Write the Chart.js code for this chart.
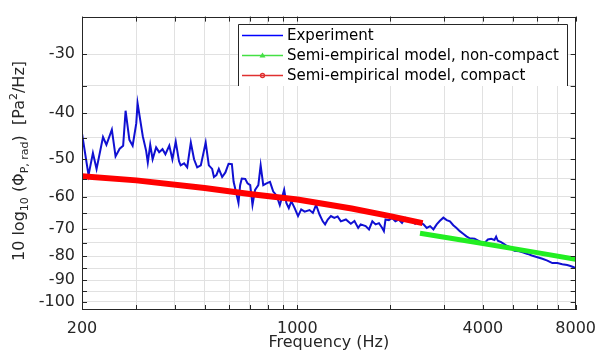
<!DOCTYPE html>
<html>
<head>
<meta charset="utf-8">
<script src="https://cdn.jsdelivr.net/npm/chart.js@4.4.0/dist/chart.umd.min.js"></script>
<style>
  html, body { margin: 0; padding: 0; background: #fff; }
  #wrap { width: 605px; height: 356px; }
</style>
</head>
<body>
<div id="wrap"><canvas id="psdChart" width="605" height="356"></canvas></div>
<script>
// 實驗量測：頻率 (Hz) 與 10 log10(Phi) (dB)
const expFreq = [200, 210, 217, 223, 234, 240, 250, 257, 265, 272, 277, 285, 292, 300, 303, 315, 323, 327, 333, 339,
    348, 356, 365, 373, 384, 393, 403, 413, 418, 429, 439, 451, 462, 473, 486, 504, 516, 529, 536, 546,
    556, 570, 584, 598, 613, 621, 636, 644, 652, 660, 677, 689, 703, 715, 729, 747, 760, 775, 794, 815,
    835, 856, 877, 906, 921, 938, 956, 980, 1005, 1029, 1056, 1095, 1123, 1150, 1180, 1209, 1230, 1255, 1285, 1318,
    1351, 1384, 1437, 1491, 1532, 1575, 1605, 1666, 1708, 1751, 1794, 1840, 1885, 1909, 1932, 1981, 2030, 2080, 2132, 2186,
    2240, 2296, 2354, 2412, 2474, 2566, 2630, 2696, 2764, 2832, 2902, 2977, 3052, 3127, 3206, 3285, 3366, 3452, 3537, 3624,
    3761, 3902, 4050, 4154, 4257, 4362, 4416, 4472, 4583, 4757, 4937, 5060, 5248, 5382, 5585, 5796, 6014, 6241, 6476, 6720,
    6974, 7238, 7510, 7697, 7887, 8000];
const expLevel = [-44.1, -54.0, -48.5, -52.4, -44.9, -46.6, -43.3, -49.3, -47.5, -46.8, -39.5, -45.5, -46.8, -42.0, -38.1, -44.7, -48.0, -50.8, -46.6, -50.0,
    -47.2, -48.3, -47.6, -48.8, -46.8, -50.0, -45.9, -50.5, -51.5, -51.0, -52.0, -46.1, -50.0, -52.0, -51.5, -46.1, -51.5, -52.4, -54.5, -54.0,
    -52.4, -54.5, -53.3, -51.1, -51.2, -55.8, -59.6, -61.8, -56.7, -54.9, -55.0, -56.2, -56.7, -62.4, -58.0, -56.7, -51.5, -56.7, -56.2, -55.8,
    -58.5, -59.6, -62.5, -58.0, -61.8, -63.4, -61.3, -63.4, -65.9, -63.8, -64.5, -64.0, -64.9, -62.4, -65.4, -67.6, -68.6, -67.0, -65.9, -66.5,
    -66.0, -67.6, -67.0, -68.4, -67.5, -69.8, -68.6, -69.2, -70.3, -67.6, -68.6, -68.2, -69.8, -70.9, -67.0, -67.2, -66.5, -67.6, -67.0, -68.1,
    -66.5, -67.5, -67.6, -68.4, -67.8, -68.6, -69.8, -69.2, -70.3, -68.6, -67.4, -66.4, -67.2, -67.6, -68.9, -69.8, -70.9, -71.8, -72.7, -73.4,
    -73.6, -74.5, -75.1, -73.8, -73.6, -74.0, -72.8, -74.3, -74.8, -76.0, -76.8, -78.0, -78.2, -78.6, -79.2, -79.9, -80.5, -81.1, -81.8, -82.8,
    -82.8, -83.3, -83.6, -84.0, -84.5, -85.0];

// 半經驗模型
const nonCompactFreq = [2500, 4000, 6000, 8000];
const nonCompactLevel = [-71.6, -75.3, -78.7, -81.3];
const compactFreq = [200, 300, 500, 700, 1000, 1500, 2000, 2550];
const compactLevel = [-54.3, -55.4, -57.5, -59.2, -60.8, -63.5, -65.9, -68.2];

// 刻度
const xTicks = [200, 300, 400, 500, 600, 700, 800, 900, 1000, 2000, 3000, 4000, 5000, 6000, 7000, 8000];
const xLabels = [200, 1000, 4000, 8000];
const yTicks = [-30, -35, -40, -45, -50, -55, -60, -65, -70, -75, -80, -85, -90, -95, -100];
const yLabels = [-30, -40, -50, -60, -70, -80, -90, -100];

// 圖例樣式（依資料集順序）
const legendColors = ['#0000ff', '#44e044', '#e03030'];
const legendMarkers = ['none', 'triangle', 'circle'];

const AXIS_COLOR = '#262626';
const GRID_COLOR = '#e1e1e1';
Chart.defaults.font.family = "'DejaVu Sans', sans-serif";

// y 軸以 |dB| 的對數刻度繪製（MATLAB 的畫法），標籤再加回負號
function toPoints(freqs, levels) {
    return freqs.map((f, i) => ({ x: f, y: -levels[i] }));
}

// 外框、內側刻度、圖例與 y 軸標題
const matlabLook = {
    id: 'matlabLook',
    afterDraw(chart) {
        const { ctx, chartArea: a, scales } = chart;
        const x = scales.x, y = scales.y;
        ctx.save();
        ctx.strokeStyle = AXIS_COLOR;
        ctx.lineWidth = 1;
        ctx.strokeRect(Math.round(a.left) + 0.5, Math.round(a.top) + 0.5,
            Math.round(a.width) - 1, Math.round(a.height) - 1);

        ctx.beginPath();
        xTicks.forEach(v => {
            const px = Math.round(x.getPixelForValue(v)) + 0.5;
            ctx.moveTo(px, a.bottom); ctx.lineTo(px, a.bottom - 5);
            ctx.moveTo(px, a.top); ctx.lineTo(px, a.top + 5);
        });
        yTicks.forEach(v => {
            const py = Math.round(y.getPixelForValue(-v)) + 0.5;
            ctx.moveTo(a.left, py); ctx.lineTo(a.left + 5, py);
            ctx.moveTo(a.right, py); ctx.lineTo(a.right - 5, py);
        });
        ctx.stroke();

        // 圖例
        const lx = 238, ly = 24, lw = 330, lh = 62;
        ctx.fillStyle = '#fff';
        ctx.fillRect(lx, ly, lw, lh);
        ctx.beginPath();
        ctx.moveTo(lx + 0.5, ly + lh);
        ctx.lineTo(lx + 0.5, ly + 0.5);
        ctx.lineTo(lx + lw - 0.5, ly + 0.5);
        ctx.lineTo(lx + lw - 0.5, ly + lh);
        ctx.stroke();

        ctx.font = '15px "DejaVu Sans"';
        ctx.textBaseline = 'middle';
        chart.data.datasets.forEach((ds, i) => {
            const cy = ly + 11.5 + i * 20;
            const col = legendColors[i];
            ctx.strokeStyle = col;
            ctx.lineWidth = 1.3;
            ctx.beginPath();
            ctx.moveTo(lx + 4, cy); ctx.lineTo(lx + 45, cy);
            ctx.stroke();
            if (legendMarkers[i] === 'triangle') {
                ctx.fillStyle = col;
                ctx.beginPath();
                ctx.moveTo(lx + 24.5, cy - 3);
                ctx.lineTo(lx + 27.5, cy + 2);
                ctx.lineTo(lx + 21.5, cy + 2);
                ctx.closePath();
                ctx.fill();
            } else if (legendMarkers[i] === 'circle') {
                ctx.beginPath();
                ctx.arc(lx + 24.5, cy, 2, 0, Math.PI * 2);
                ctx.stroke();
            }
            ctx.fillStyle = '#000';
            ctx.textAlign = 'left';
            ctx.fillText(ds.label, lx + 49, cy + 1);
        });

        // y 軸標題（含上下標）
        const parts = [
            { t: '10 log', size: 16, dy: 0 },
            { t: '10', size: 11, dy: 4 },
            { t: ' (\u03A6', size: 16, dy: 0 },
            { t: 'P, rad', size: 11, dy: 4 },
            { t: ')  [Pa', size: 16, dy: 0 },
            { t: '2', size: 11, dy: -7 },
            { t: '/Hz]', size: 16, dy: 0 }
        ];
        let total = 0;
        parts.forEach(p => {
            ctx.font = p.size + 'px "DejaVu Sans"';
            p.w = ctx.measureText(p.t).width;
            total += p.w;
        });
        ctx.translate(24, 161);
        ctx.rotate(-Math.PI / 2);
        ctx.fillStyle = AXIS_COLOR;
        ctx.textBaseline = 'alphabetic';
        let pos = -total / 2;
        parts.forEach(p => {
            ctx.font = p.size + 'px "DejaVu Sans"';
            ctx.fillText(p.t, pos, p.dy);
            pos += p.w;
        });
        ctx.restore();
    }
};

new Chart(document.getElementById('psdChart'), {
    type: 'line',
    data: {
        datasets: [
            {
                label: 'Experiment',
                data: toPoints(expFreq, expLevel),
                borderColor: '#1010d2',
                borderWidth: 2,
                order: 3
            },
            {
                label: 'Semi-empirical model, non-compact',
                data: toPoints(nonCompactFreq, nonCompactLevel),
                borderColor: '#22ee22',
                borderWidth: 5,
                order: 2
            },
            {
                label: 'Semi-empirical model, compact',
                data: toPoints(compactFreq, compactLevel),
                borderColor: '#ff0000',
                borderWidth: 6,
                order: 1
            }
        ]
    },
    options: {
        responsive: false,
        animation: false,
        elements: { point: { radius: 0 }, line: { tension: 0 } },
        layout: { padding: { top: 11, right: 24, left: 0, bottom: 0 } },
        plugins: { legend: { display: false }, tooltip: { enabled: false } },
        scales: {
            x: {
                type: 'logarithmic',
                position: 'bottom',
                min: 200,
                max: 8000,
                border: { display: false },
                grid: { color: GRID_COLOR, drawTicks: false },
                afterBuildTicks: scale => { scale.ticks = xTicks.map(v => ({ value: v })); },
                afterFit: scale => { scale.height = 46; },
                ticks: {
                    autoSkip: false,
                    maxRotation: 0,
                    padding: 9,
                    color: AXIS_COLOR,
                    font: { size: 16 },
                    callback: v => xLabels.includes(v) ? String(v) : ''
                },
                title: {
                    display: true,
                    text: 'Frequency (Hz)',
                    color: AXIS_COLOR,
                    font: { size: 16 },
                    padding: { top: 0, bottom: 4 }
                }
            },
            y: {
                type: 'logarithmic',
                position: 'left',
                reverse: true,
                min: 25,
                max: 104,
                border: { display: false },
                grid: { color: GRID_COLOR, drawTicks: false },
                afterBuildTicks: scale => { scale.ticks = yTicks.map(v => ({ value: -v })); },
                afterFit: scale => { scale.width = 82; },
                ticks: {
                    autoSkip: false,
                    padding: 7,
                    color: AXIS_COLOR,
                    font: { size: 16 },
                    callback: v => yLabels.includes(-v) ? String(-v) : ''
                }
            }
        }
    },
    plugins: [matlabLook]
});
</script>
</body>
</html>
